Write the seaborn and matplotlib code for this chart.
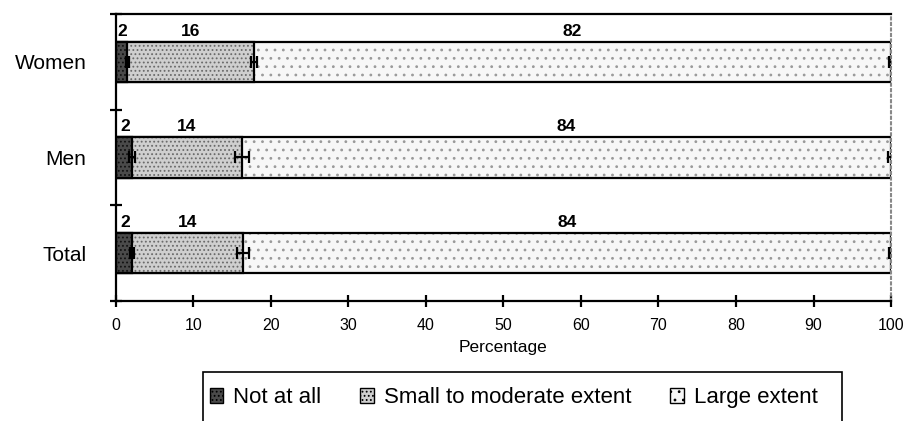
import matplotlib
matplotlib.use("Agg")
import matplotlib.pyplot as plt
import matplotlib.patches as mpatches
import seaborn as sns
import pandas as pd
import numpy as np

# Dados
categorias = ["Women", "Men", "Total"]
nao = [1.5, 2.1, 2.1]
pequena = [16.3, 14.2, 14.3]
grande = [82.2, 83.7, 83.6]
erro_nao = [0.2, 0.4, 0.3]
erro_peq = [0.4, 0.9, 0.8]
erro_gra = [0.3, 0.4, 0.3]
series = ["Not at all", "Small to moderate extent", "Large extent"]
xticks = [0, 10, 20, 30, 40, 50, 60, 70, 80, 90, 100]

def main():
    sns.set_theme(style="white")
    plt.rcParams['font.family'] = ['Liberation Sans', 'DejaVu Sans']
    plt.rcParams['hatch.linewidth'] = 0.8
    for k in ['text.color', 'axes.labelcolor', 'xtick.color', 'ytick.color']:
        plt.rcParams[k] = 'black'

    df = pd.DataFrame({"cat": categorias, "nao": nao, "peq": pequena, "gra": grande})
    df["c1"] = df["nao"]
    df["c2"] = df["nao"] + df["peq"]
    df["c3"] = df["c2"] + df["gra"]

    fig = plt.figure(figsize=(9.04, 4.21), dpi=100)
    ax = fig.add_axes([0.128, 0.285, 0.8577, 0.682])

    # (cor de fundo, hachura, cor da hachura)
    estilos = [("#f7f7f7", "..", "#9a9a9a"), ("#cfcfcf", "....", "#6a6a6a"),
               ("#4a4a4a", "....", "#111111")]
    for col, (cor, hatch, hcor) in zip(["c3", "c2", "c1"], estilos):
        sns.barplot(data=df, y="cat", x=col, orient="h", color=cor, hatch=hatch,
                    edgecolor=hcor, linewidth=0, width=0.42, errorbar=None,
                    saturation=1, ax=ax)
        # contorno preto por cima
        sns.barplot(data=df, y="cat", x=col, orient="h", fill=False, color="black",
                    linewidth=1.6, width=0.42, errorbar=None, ax=ax)

    ypos = np.arange(len(categorias))
    for col, err in zip(["c1", "c2", "c3"], [erro_nao, erro_peq, erro_gra]):
        ax.errorbar(df[col], ypos, xerr=err, fmt="none", ecolor="black",
                    elinewidth=1.6, capsize=4.5, capthick=1.6, zorder=5)

    # rótulos
    for i, row in df.iterrows():
        y = i - 0.24
        ax.text(row["c1"] / 2 + 0.15, y, f"{row['nao']:.0f}", ha="center", va="bottom",
                fontsize=12.5, fontweight="bold")
        ax.text((row["c1"] + row["c2"]) / 2, y, f"{row['peq']:.0f}", ha="center",
                va="bottom", fontsize=12.5, fontweight="bold")
        ax.text((row["c2"] + row["c3"]) / 2, y, f"{row['gra']:.0f}", ha="center",
                va="bottom", fontsize=12.5, fontweight="bold")

    ax.set_xlim(0, 100)
    ax.set_ylim(2.5, -0.5)
    ax.set_xticks(xticks)
    ax.set_xticklabels([str(t) for t in xticks], fontsize=11.5)
    ax.set_yticks(ypos)
    ax.set_yticklabels(categorias, fontsize=15)
    ax.set_yticks([-0.5, 0.5, 1.5, 2.5], minor=True)
    ax.tick_params(axis="y", which="major", length=0, pad=21)
    ax.tick_params(axis="y", which="minor", length=8, width=1.6, direction="inout", left=True)
    ax.tick_params(axis="x", length=8, width=1.6, direction="inout", bottom=True, pad=8)
    ax.set_xlabel("Percentage", fontsize=12.5, labelpad=5)
    ax.set_ylabel("")

    for s in ["left", "bottom", "top"]:
        ax.spines[s].set_color("black")
        ax.spines[s].set_linewidth(1.6)
    ax.spines["right"].set_color("#888888")
    ax.spines["right"].set_linestyle(":")
    ax.spines["right"].set_linewidth(1.5)

    handles = [mpatches.Patch(facecolor=c, hatch=h, edgecolor="black", linewidth=1)
               for c, h, _ in reversed(estilos)]
    fig.legend(handles, series, loc="center", ncol=3, frameon=False, fontsize=16,
               bbox_to_anchor=(0.210, 0.055, 0.7165, 0.0), mode="expand",
               handlelength=0.6, handleheight=0.6, handletextpad=0.45)
    fig.patches.append(mpatches.Rectangle((0.2245, -0.05), 0.707, 0.1664,
                                          transform=fig.transFigure, fill=False,
                                          edgecolor="black", linewidth=1.2))

    fig.savefig("out.png", dpi=100)
    plt.close(fig)

if __name__ == "__main__":
    main()
